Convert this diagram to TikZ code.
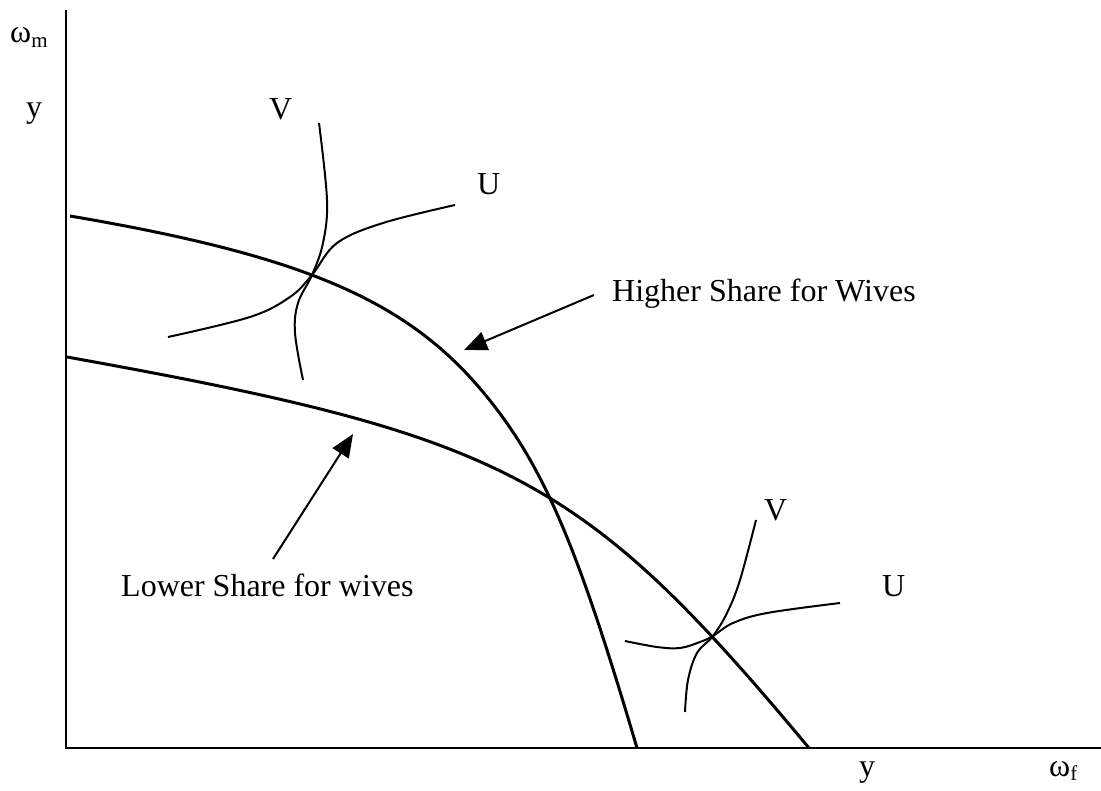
\documentclass[tikz,border=0pt]{standalone}
\usepackage{fontspec}
\setmainfont{Liberation Serif}
\usetikzlibrary{arrows.meta}
\newcommand{\sub}[1]{\raisebox{-0.3ex}{\fontsize{21}{21}\selectfont #1}}
\tikzset{
  axisline/.style={line width=2.4pt},
  frontier/.style={line width=3pt, line join=round},
  indiff/.style={line width=2pt},
  pointer/.style={line width=2pt, -{Triangle[length=23pt,width=19pt]}},
  lab/.style={inner sep=0pt, anchor=base west, font=\fontsize{32}{38}\selectfont},
}
\begin{document}
\begin{tikzpicture}[x=1pt,y=-1pt]
\useasboundingbox (0,0) rectangle (1101,791);
% axes
\coordinate (ytop) at (65.7,10);
\coordinate (orig) at (65.7,748);
\coordinate (xend) at (1101,748);
\draw[axisline] (ytop) -- (orig) -- (xend);
% axis labels
\node[lab] (wm) at (10,43) {ω\sub{m}};
\node[lab] (yl) at (26,118) {y};
\node[lab] (yb) at (859,776) {y};
\node[lab] (wf) at (1049,776) {ω\sub{f}};
% frontiers
\coordinate (hA) at (70,216);
\coordinate (hB) at (483,392);
\coordinate (hC) at (637,748);
\draw[frontier] (hA) .. controls (302.5,255.6) and (405.75,299.6) .. (hB)
                     .. controls (543.9,465.1) and (577.4,546.2) .. (hC);
\coordinate (lA) at (67,357);
\coordinate (lB) at (809,748);
\draw[frontier] (lA) .. controls (507.6,436.3) and (581.8,475.4) .. (lB);
% indifference curves top
\draw[indiff] plot[smooth, tension=0.6] coordinates {(319,123) (327,200) (323,243) (312,275) (298,303) (295,333) (303,380)};
\draw[indiff] plot[smooth, tension=0.6] coordinates {(168,337) (250,317) (290,297) (312,275) (337,243) (383,223) (455,205)};
% indifference curves bottom
\draw[indiff] plot[smooth, tension=0.6] coordinates {(625,641) (657,647) (680,648) (700,642) (713,636) (733,623) (767,613) (840,603)};
\draw[indiff] plot[smooth, tension=0.6] coordinates {(685,712) (688,680) (697,653) (713,636) (727,613) (740,580) (756,520)};
% curve labels
\node[lab] (v1) at (269,120) {V};
\node[lab] (u1) at (477,195) {U};
\node[lab] (v2) at (764,521) {V};
\node[lab] (u2) at (882,596) {U};
% share labels and pointers
\node[lab] (hs) at (612,302) {Higher Share for Wives};
\node[lab] (ls) at (121,596) {Lower Share for wives};
\coordinate (hsTail) at (594,295);
\coordinate (hsTip) at (464,350);
\coordinate (lsTail) at (273,559);
\coordinate (lsTip) at (353,434);
\draw[pointer] (hsTail) -- (hsTip);
\draw[pointer] (lsTail) -- (lsTip);
\end{tikzpicture}
\end{document}
